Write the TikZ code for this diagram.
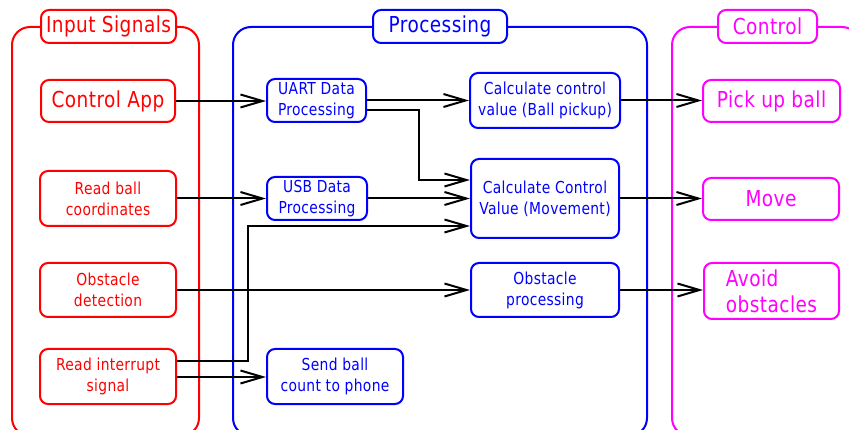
\documentclass[tikz,border=0pt]{standalone}
\usepackage{fontspec}
\setmainfont{DejaVu Sans}[FakeStretch=0.84, LetterSpace=2]
\usetikzlibrary{arrows.meta}
\definecolor{cred}{RGB}{255,0,0}
\definecolor{cblue}{RGB}{0,0,255}
\definecolor{cmag}{RGB}{255,0,255}
\tikzset{
  box/.style={draw, line width=2pt, rounded corners=8pt, fill=white, inner sep=0pt, align=center},
  small/.style={font=\fontsize{16.5}{21}\selectfont},
  big/.style={font=\fontsize{22}{26}\selectfont},
  lane/.style={line width=2pt, rounded corners=18pt},
  redbox/.style={box, draw=cred, text=cred},
  bluebox/.style={box, draw=cblue, text=cblue},
  magbox/.style={box, draw=cmag, text=cmag},
  arr/.style={draw=black, line width=2pt, -{Straight Barb[length=22pt,width=13pt]}},
}
\begin{document}
\begin{tikzpicture}[x=1pt,y=-1pt]
\useasboundingbox (0,0) rectangle (849,430);
\clip (0,0) rectangle (849,430);
\fill[white] (0,0) rectangle (849,430);

% swimlanes
\draw[lane, cred]  (12,27) rectangle (199,436);
\draw[lane, cblue] (233,27) rectangle (647,436);
\draw[lane, cmag]  (672,27) rectangle (860,436);

% lane titles
\node[redbox, big, minimum width=135, minimum height=33] (tin) at (108.5,26.5) {Input Signals};
\node[bluebox, big, minimum width=134, minimum height=33] (tproc) at (440,26.5) {Processing};
\node[magbox, big, minimum width=99, minimum height=33] (tctl) at (767.5,26.5) {Control};

% input signals
\node[redbox, big, minimum width=134, minimum height=42] (app) at (108,101) {Control App};
\node[redbox, small, minimum width=136, minimum height=55] (rball) at (108,198.5) {Read ball\\coordinates};
\node[redbox, small, minimum width=136, minimum height=54] (odet) at (108,290) {Obstacle\\detection};
\node[redbox, small, minimum width=136, minimum height=55] (intr) at (108,376.5) {Read interrupt\\signal};

% processing
\node[bluebox, small, minimum width=99, minimum height=43] (uart) at (316.5,100.5) {UART Data\\Processing};
\node[bluebox, small, minimum width=100, minimum height=43] (usb) at (317,198.5) {USB Data\\Processing};
\node[bluebox, small, minimum width=136, minimum height=55] (send) at (335,376.5) {Send ball\\count to phone};
\node[bluebox, small, minimum width=150, minimum height=55] (cball) at (545,100.5) {Calculate control\\value (Ball pickup)};
\node[bluebox, small, minimum width=148, minimum height=79] (cmove) at (545,198.5) {Calculate Control\\Value (Movement)};
\node[bluebox, small, minimum width=148, minimum height=54] (oproc) at (545,290) {Obstacle\\processing};

% control
\node[magbox, big, minimum width=137, minimum height=42] (pick) at (771.5,101) {Pick up ball};
\node[magbox, big, minimum width=136, minimum height=42] (move) at (771,199) {Move};
\node[magbox, big, minimum width=135, minimum height=56, align=left] (avoid) at (771.5,291) {Avoid\\obstacles};

% bend points
\coordinate (j1) at (419,110);
\coordinate (j1b) at (419,180);
\coordinate (j2) at (248,361);
\coordinate (j2b) at (248,226);

% connectors
\draw[arr] (app.east) -- (uart.west |- app.east);
\draw[arr] (uart.east) -- (cball.west |- uart.east);
\draw[arr] (uart.east |- j1) -- (j1) -- (j1b) -- (cmove.west |- j1b);
\draw[arr] (rball.east) -- (usb.west |- rball.east);
\draw[arr] (usb.east) -- (cmove.west |- usb.east);
\draw[arr] (intr.east |- j2) -- (j2) -- (j2b) -- (cmove.west |- j2b);
\draw[arr] (intr.east |- 0,377) -- (send.west |- 0,377);
\draw[arr] (odet.east) -- (oproc.west |- odet.east);
\draw[arr] (cball.east) -- (pick.west |- cball.east);
\draw[arr] (cmove.east) -- (move.west |- cmove.east);
\draw[arr] (oproc.east) -- (avoid.west |- oproc.east);
\end{tikzpicture}
\end{document}
